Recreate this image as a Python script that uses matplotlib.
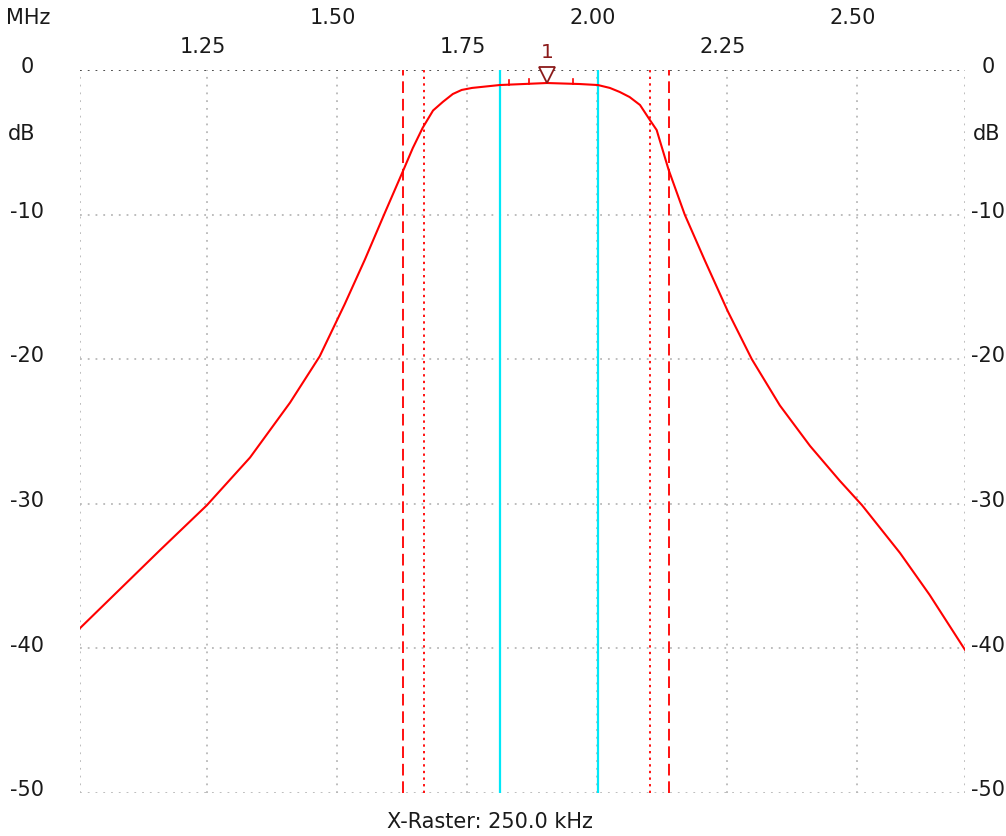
import matplotlib
matplotlib.use("Agg")
import matplotlib.pyplot as plt
import numpy as np

# ---- data ----
freq_mhz = [1.006, 1.083, 1.160, 1.250, 1.333, 1.410, 1.467, 1.515, 1.554, 1.592,
            1.627, 1.646, 1.665, 1.685, 1.704, 1.723, 1.740, 1.760, 1.813, 1.904,
            1.967, 2.002, 2.025, 2.044, 2.063, 2.083, 2.102, 2.115, 2.138, 2.169,
            2.208, 2.252, 2.298, 2.352, 2.410, 2.467, 2.510, 2.583, 2.640, 2.708]
level_db = [-38.6, -35.9, -33.2, -30.1, -26.8, -23.0, -19.8, -16.2, -13.1, -9.9,
            -7.0, -5.4, -4.0, -2.8, -2.2, -1.66, -1.38, -1.24, -1.04, -0.9,
            -0.97, -1.04, -1.24, -1.52, -1.87, -2.42, -3.46, -4.15, -6.9, -10.0,
            -13.2, -16.7, -20.0, -23.2, -26.0, -28.4, -30.1, -33.4, -36.3, -40.1]

x_ticks = [1.25, 1.50, 1.75, 2.00, 2.25, 2.50]
x_tick_labels = ["1.25", "1.50", "1.75", "2.00", "2.25", "2.50"]
y_ticks = [0, -10, -20, -30, -40, -50]
y_tick_labels = ["0", "-10", "-20", "-30", "-40", "-50"]

cyan_lines = [1.813, 2.002]
red_dashed = [1.627, 2.138]
red_dotted = [1.667, 2.102]
marker_f = 1.904
marker_db = -0.9
marker_ticks = [1.831, 1.870, 1.955]

x_min, x_max = 1.006, 2.708
y_min, y_max = -50, 0

# ---- figure ----
fig = plt.figure(figsize=(10.06, 8.36), dpi=100)
ax = fig.add_axes([80 / 1006, 43 / 836, 885 / 1006, 723 / 836])
ax.set_xlim(x_min, x_max)
ax.set_ylim(y_min, y_max)
for s in ax.spines.values():
    s.set_visible(False)
ax.tick_params(length=0)
ax.set_xticks([])
ax.set_yticks([])

grid_col = "#b8b8b8"
dot = (0, (1, 3.3))
# vertical grid
for xv in [x_min] + x_ticks + [x_max]:
    ax.axvline(xv, color=grid_col, lw=1.3, ls=dot, zorder=1)
# horizontal grid
for yv in y_ticks[1:]:
    ax.axhline(yv, color=grid_col, lw=1.3, ls=dot, zorder=1)
ax.axhline(0, color="#404040", lw=1.3, ls=dot, zorder=1)

# marker lines
for xv in cyan_lines:
    ax.axvline(xv, color="#00e8f8", lw=1.6, zorder=2)
for xv in red_dashed:
    ax.axvline(xv, color="#ff1010", lw=1.4, ls=(0, (6, 3)), zorder=2)
for xv in red_dotted:
    ax.axvline(xv, color="#ff1010", lw=1.4, ls=(0, (1.2, 2.2)), zorder=2)

# curve
ax.plot(freq_mhz, level_db, color="#ff0000", lw=1.5, zorder=3)

# small ticks on top
tick_level = np.interp(marker_ticks, freq_mhz, level_db)
for f, lv in zip(marker_ticks, tick_level):
    ax.plot([f, f], [lv, lv + 0.35], color="#ff0000", lw=1.2, zorder=3)

# marker triangle
ax.plot([marker_f], [marker_db + 0.55], marker="v", markersize=11,
        markerfacecolor="white", markeredgecolor="#8b1a1a", markeredgewidth=1.3,
        zorder=4, clip_on=False)
ax.text(marker_f, 0.55, "1", color="#8b1a1a", fontsize=14.5, ha="center",
        va="bottom", zorder=5)

fs = 15
tc = "#1a1a1a"
xt = ax.get_xaxis_transform()
for i, (xv, lab) in enumerate(zip(x_ticks, x_tick_labels)):
    yy = 1.032 if i % 2 == 0 else 1.072
    ax.text(xv - 0.008, yy, lab, transform=xt, ha="center", va="center",
            fontsize=fs, color=tc)
fig.text(28 / 1006, 1 - 18 / 836, "MHz", ha="center", va="center",
         fontsize=fs, color=tc)

yt = ax.get_yaxis_transform()
for yv, lab in zip(y_ticks, y_tick_labels):
    ax.text(-0.06, yv + 0.2, lab, transform=yt, ha="center", va="center",
            fontsize=fs, color=tc)
    ax.text(1.026, yv + 0.2, lab, transform=yt, ha="center", va="center",
            fontsize=fs, color=tc)
ax.text(-0.066, -4.4, "dB", transform=yt, ha="center", va="center",
        fontsize=fs, color=tc)
ax.text(1.024, -4.4, "dB", transform=yt, ha="center", va="center",
        fontsize=fs, color=tc)

fig.text(490 / 1006, 1 - 822 / 836, "X-Raster: 250.0 kHz", ha="center",
         va="center", fontsize=fs, color=tc)

fig.savefig("out.png", dpi=100, facecolor="white")
